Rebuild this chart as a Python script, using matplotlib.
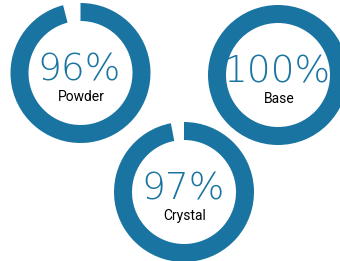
import matplotlib
matplotlib.use("Agg")
import matplotlib.pyplot as plt
from matplotlib.patches import Wedge, Circle

# data
labels = ["Powder", "Base", "Crystal"]
percents = [96, 100, 97]

# layout (pixel positions, y measured from top)
centers = [(80.5, 73), (278, 75), (184, 192)]
radius = 70
ring = 18
blue = "#1a74a1"

W, H = 340, 261
fig = plt.figure(figsize=(W / 100, H / 100), dpi=100)
ax = fig.add_axes([0, 0, 1, 1])
ax.set_xlim(0, W)
ax.set_ylim(0, H)
ax.set_aspect("equal")
ax.axis("off")

for (cx, cy), lab, pct in zip(centers, labels, percents):
    y = H - cy
    ax.add_patch(Circle((cx, y), radius, facecolor="white", edgecolor="none"))
    t1 = 90 - 360 * pct / 100
    ax.add_patch(Wedge((cx, y), radius, t1, 90, width=ring,
                       facecolor=blue, edgecolor="none"))
    ax.text(cx - 1, y + 3, f"{pct}%", ha="center", va="center",
            fontsize=27, color=blue, family="DejaVu Sans", weight="light")
    ax.text(cx + 1, y - 24, lab, ha="center", va="center",
            fontsize=10, color="black", family="Roboto")

fig.savefig("out.png", dpi=100)
